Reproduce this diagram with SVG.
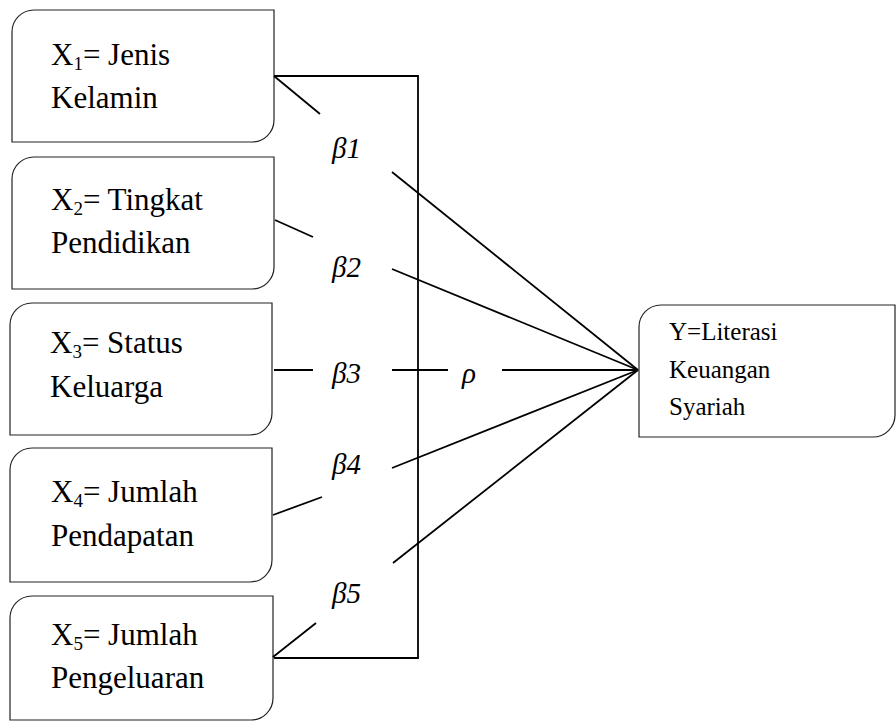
<svg xmlns="http://www.w3.org/2000/svg" width="896" height="725" viewBox="0 0 896 725">
<style>
.box{fill:#fff;stroke:#222;stroke-width:1.2}
.t{font-family:"Liberation Serif","Times New Roman",serif;font-size:31px;fill:#000}
.ty{font-family:"Liberation Serif","Times New Roman",serif;font-size:25px;fill:#000}
.sub{font-size:19px}
.b{font-family:"Liberation Serif","Times New Roman",serif;font-size:29px;font-style:italic;fill:#000}
.ln{stroke:#000;stroke-width:1.8;fill:none}
</style>
<rect width="896" height="725" fill="#fff"/>
<g id="x1">
<path class="box" d="M34,10 H274 V120 A22,22 0 0 1 252,142 H12 V32 A22,22 0 0 1 34,10 Z"/>
<text class="t" x="51" y="65">X<tspan class="sub" dy="5">1</tspan><tspan dy="-5">= Jenis</tspan></text>
<text class="t" x="51" y="108">Kelamin</text>
</g>
<g id="x2">
<path class="box" d="M34,157 H274 V267 A22,22 0 0 1 252,289 H12 V179 A22,22 0 0 1 34,157 Z"/>
<text class="t" x="51" y="210">X<tspan class="sub" dy="5">2</tspan><tspan dy="-5">= Tingkat</tspan></text>
<text class="t" x="51" y="253">Pendidikan</text>
</g>
<g id="x3">
<path class="box" d="M32,303 H272 V413 A22,22 0 0 1 250,435 H10 V325 A22,22 0 0 1 32,303 Z"/>
<text class="t" x="50" y="353">X<tspan class="sub" dy="5">3</tspan><tspan dy="-5">= Status</tspan></text>
<text class="t" x="50" y="397">Keluarga</text>
</g>
<g id="x4">
<path class="box" d="M32,448 H272 V560 A22,22 0 0 1 250,582 H10 V470 A22,22 0 0 1 32,448 Z"/>
<text class="t" x="51" y="502">X<tspan class="sub" dy="5">4</tspan><tspan dy="-5">= Jumlah</tspan></text>
<text class="t" x="51" y="546">Pendapatan</text>
</g>
<g id="x5">
<path class="box" d="M32,596 H273 V698 A22,22 0 0 1 251,720 H10 V618 A22,22 0 0 1 32,596 Z"/>
<text class="t" x="51" y="645">X<tspan class="sub" dy="5">5</tspan><tspan dy="-5">= Jumlah</tspan></text>
<text class="t" x="51" y="688">Pengeluaran</text>
</g>
<g id="y">
<path class="box" d="M661,305 H895 V415 A22,22 0 0 1 873,437 H639 V327 A22,22 0 0 1 661,305 Z"/>
<text class="ty" x="669" y="340">Y=Literasi</text>
<text class="ty" x="669" y="378">Keuangan</text>
<text class="ty" x="669" y="415">Syariah</text>
</g>
<g id="connectors">
<polyline class="ln" points="274,76 418,76 418,658 274,658"/>
<line class="ln" x1="274" y1="76" x2="320" y2="114"/>
<line class="ln" x1="392" y1="172" x2="638" y2="370"/>
<line class="ln" x1="275" y1="220" x2="313" y2="237"/>
<line class="ln" x1="392" y1="269" x2="638" y2="370"/>
<line class="ln" x1="274" y1="370" x2="313" y2="370"/>
<line class="ln" x1="392" y1="370" x2="448" y2="370"/>
<line class="ln" x1="502" y1="370" x2="638" y2="370"/>
<line class="ln" x1="273" y1="515" x2="322" y2="497"/>
<line class="ln" x1="392" y1="468" x2="638" y2="370"/>
<line class="ln" x1="273" y1="657" x2="316" y2="623"/>
<line class="ln" x1="393" y1="563" x2="638" y2="370"/>
</g>
<g id="labels">
<text class="b" x="332" y="158">β1</text>
<text class="b" x="332" y="277">β2</text>
<text class="b" x="332" y="383">β3</text>
<text class="b" x="332" y="474">β4</text>
<text class="b" x="332" y="603">β5</text>
<text class="b" x="462" y="383">ρ</text>
</g>
</svg>
